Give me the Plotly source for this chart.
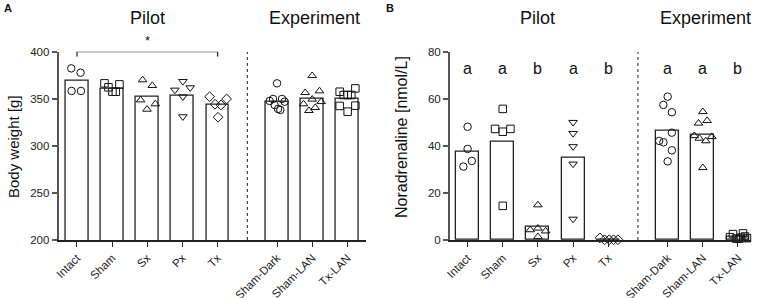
import plotly.graph_objects as go

# ---------------- data ----------------
groups = ["Intact", "Sham", "Sx", "Px", "Tx", "Sham-Dark", "Sham-LAN", "Tx-LAN"]
symbols = ["circle-open", "square-open", "triangle-up-open", "triangle-down-open",
           "diamond-open", "circle-open", "triangle-up-open", "square-open"]

# Panel A: body weight [g]
weight_intact = [382.3, 377.7, 358.3, 358.3]
weight_sham = [366.4, 362.2, 357.5, 357.5, 365.3]
weight_sx = [370.0, 364.0, 348.7, 338.8, 344.5]
weight_px = [359.3, 368.5, 361.8, 352.2, 331.0]
weight_tx = [352.2, 344.2, 343.4, 349.8, 330.4]
weight_sham_dark = [366.4, 347.7, 349.8, 349.8, 346.9, 343.4, 339.2, 338.1]
weight_sham_lan = [374.5, 356.5, 358.3, 349.5, 344.5, 346.9, 337.4, 340.6]
weight_tx_lan = [357.5, 354.0, 354.0, 354.0, 361.0, 342.4, 336.3, 342.7]
weight_bar = [369.0, 360.5, 352.6, 353.7, 343.8, 347.0, 350.3, 350.2]

# Panel B: noradrenaline [nmol/L]
na_intact = [48.1, 38.7, 33.6, 31.2]
na_sham = [55.7, 47.2, 46.0, 47.2, 14.5]
na_sx = [14.9, 4.3, 5.0, 3.8, 1.4]
na_px = [50.0, 45.3, 39.7, 32.3, 8.9]
na_tx = [0.9, 0.1, 0.1, 0.1, 0.1]
na_sham_dark = [60.9, 57.4, 54.3, 45.6, 42.1, 41.5, 38.1, 33.4]
na_sham_lan = [54.5, 49.6, 50.7, 44.3, 43.2, 42.1, 43.9, 30.7]
na_tx_lan = [1.2, 2.5, 0.6, 0.5, 1.0, 2.8, 1.5, 0.8]
na_bar = [37.7, 41.8, 5.7, 35.0, 0.3, 46.5, 44.6, 1.3]
na_letters = ["a", "a", "b", "a", "b", "a", "a", "b"]

weight_sets = [weight_intact, weight_sham, weight_sx, weight_px, weight_tx,
               weight_sham_dark, weight_sham_lan, weight_tx_lan]
na_sets = [na_intact, na_sham, na_sx, na_px, na_tx,
           na_sham_dark, na_sham_lan, na_tx_lan]

# scatter spread of the dots (pixels, left/right of bar centre)
spread_a = [[-5.7, 3.6, -5.4, 4.0], [-7.7, -3.7, 0.3, 3.7, 7.3], [-4.7, 5.0, -6.7, -0.3, 8.0],
            [-7.6, 0.4, 7.7, 0.4, 0.4], [-8.0, -2.6, 3.4, 9.0, 0.4],
            [0.0, -7.4, -4.0, 5.0, 7.6, -2.4, 1.0, 3.3], [0.0, -7.0, 7.3, 0.0, -8.7, 9.0, -3.3, 3.0],
            [-7.7, -3.7, 0.3, 4.0, 8.0, -7.7, 0.3, 8.0]]
spread_b = [[0.0, 0.0, 4.2, -4.2], [0.0, -7.7, 0.0, 7.7, 0.0], [0.0, -7.7, 0.0, 7.7, 0.0],
            [0, 0, 0, 0, 0], [-8.3, -3.7, 1.0, 5.3, 9.7],
            [0.0, -4.3, 4.2, 4.2, -8.5, -4.2, 4.2, 0.0], [0.0, -4.3, 4.3, -8.5, -3.5, 3.0, 9.0, 0.0],
            [-8, -5, -2, 1, 3, 5, 7, 9]]

# ---------------- layout helpers ----------------
W, H = 758, 298
gap = 1.69
pos = [0, 1, 2, 3, 4] + [4 + gap + i for i in range(3)]
px_per_unit = 35.17
divider = (4 + pos[5]) / 2
FONT = "Arial, Liberation Sans, sans-serif"

dom_y = [(H - 240) / H, (H - 51.7) / H]
dom_a = [58.7 / W, 366 / W]
dom_b = [450 / W, 751 / W]

fig = go.Figure()

def add_panel(xa, ya, values_sets, bars, spreads):
    fig.add_trace(go.Bar(x=pos, y=bars, width=0.65, xaxis=xa, yaxis=ya,
                         marker=dict(color="white", line=dict(color="#222", width=1.3)),
                         showlegend=False, hoverinfo="skip"))
    for i, vals in enumerate(values_sets):
        xs = [pos[i] + s / px_per_unit for s in spreads[i]]
        fig.add_trace(go.Scatter(x=xs, y=vals, mode="markers", xaxis=xa, yaxis=ya,
                                 marker=dict(symbol=symbols[i], size=7.5, color="#111",
                                             line=dict(width=1, color="#111")),
                                 showlegend=False, cliponaxis=False))

add_panel("x", "y", weight_sets, weight_bar, spread_a)
add_panel("x2", "y2", na_sets, na_bar, spread_b)

# significance bracket in panel A
fig.add_trace(go.Scatter(x=[pos[0], pos[0], pos[4], pos[4]], y=[395, 400, 400, 395],
                         mode="lines", line=dict(color="#222", width=1.2),
                         xaxis="x", yaxis="y", cliponaxis=False, showlegend=False))

xcommon = dict(showline=True, linecolor="#222", linewidth=1.5, ticks="outside", ticklen=5,
               tickwidth=1.3, tickcolor="#222", tickvals=pos, ticktext=groups, tickangle=-45,
               showgrid=False, zeroline=False, automargin=False,
               tickfont=dict(family=FONT, size=11.5, color="#222"))
ycommon = dict(showline=True, linecolor="#555", linewidth=2, ticks="outside", ticklen=5,
               tickwidth=1.5, tickcolor="#555", showgrid=False, zeroline=False, automargin=False,
               tickfont=dict(family=FONT, size=11.5, color="#222"))

fig.update_layout(
    width=W, height=H, margin=dict(l=0, r=0, t=0, b=0, autoexpand=False),
    plot_bgcolor="white", paper_bgcolor="white", bargap=0, showlegend=False,
    xaxis=dict(domain=dom_a, range=[-0.52, 8.22], anchor="y", **xcommon),
    yaxis=dict(domain=dom_y, range=[200, 400], tickvals=[200, 250, 300, 350, 400],
               anchor="x", **ycommon),
    xaxis2=dict(domain=dom_b, range=[-0.5, 8.06], anchor="y2", **xcommon),
    yaxis2=dict(domain=dom_y, range=[0, 80], tickvals=[0, 20, 40, 60, 80],
                anchor="x2", **ycommon),
)

# dotted dividers
fig.add_shape(type="line", xref="x", yref="y", x0=divider, x1=divider, y0=200, y1=400,
              line=dict(color="#222", width=1, dash="dot"))
fig.add_shape(type="line", xref="x2", yref="y2", x0=divider, x1=divider, y0=0, y1=80,
              line=dict(color="#222", width=1, dash="dot"))

ann = []
title_y = (H - 17.5) / H
exp_center = pos[6]
for xr in ["x", "x2"]:
    ann.append(dict(text="Pilot", x=2, xref=xr, y=title_y, yref="paper", showarrow=False,
                    xanchor="center", yanchor="middle",
                    font=dict(family=FONT, size=18, color="#111")))
    ann.append(dict(text="Experiment", x=exp_center + 0.07, xref=xr, y=title_y, yref="paper",
                    xanchor="center", yanchor="middle",
                    showarrow=False, font=dict(family=FONT, size=18, color="#111")))

ann.append(dict(text="<b>A</b>", x=8 / W, y=(H - 8) / H, xref="paper", yref="paper",
                xanchor="center", yanchor="middle", showarrow=False,
                font=dict(family=FONT, size=11, color="#111")))
ann.append(dict(text="<b>B</b>", x=390 / W, y=(H - 8) / H, xref="paper", yref="paper",
                xanchor="center", yanchor="middle", showarrow=False,
                font=dict(family=FONT, size=11, color="#111")))

ann.append(dict(text="Body weight [g]", x=13 / W, y=(H - 147) / H, xref="paper", yref="paper",
                xanchor="center", yanchor="middle",
                textangle=-90, showarrow=False, font=dict(family=FONT, size=15, color="#111")))
ann.append(dict(text="Noradrenaline [nmol/L]", x=402 / W, y=(H - 137) / H, xref="paper",
                yref="paper", textangle=-90, showarrow=False, xanchor="center", yanchor="middle",
                font=dict(family=FONT, size=16, color="#111")))

ann.append(dict(text="*", x=2, xref="x", y=400, yref="y", yshift=11, showarrow=False,
                xanchor="center", yanchor="middle",
                font=dict(family=FONT, size=13, color="#111")))

for i, letter in enumerate(na_letters):
    ann.append(dict(text=letter, x=pos[i], xref="x2", y=73, yref="y2", showarrow=False,
                    xanchor="center", yanchor="middle",
                    font=dict(family=FONT, size=16, color="#111")))

fig.update_layout(annotations=ann)

fig.write_html("out.html", config={"displayModeBar": False},
               post_script="document.body.style.margin='0';document.body.style.overflow='hidden';")
